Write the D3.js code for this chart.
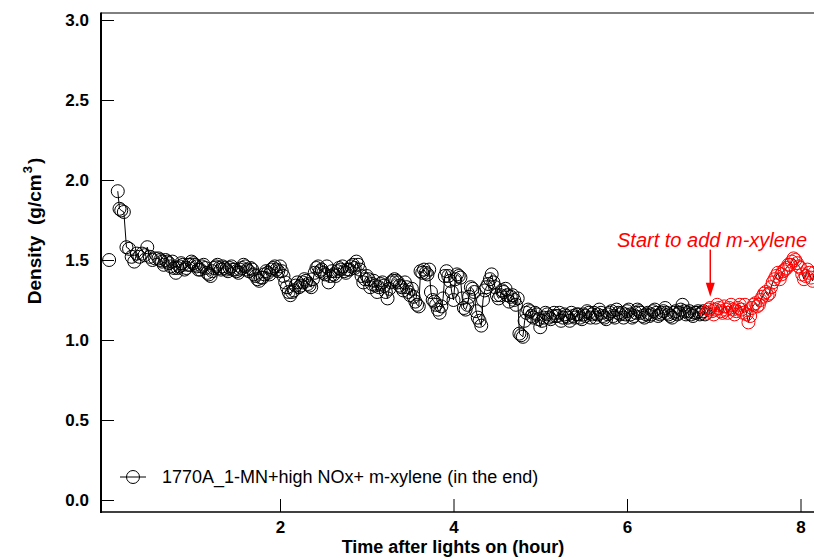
<!DOCTYPE html>
<html>
<head>
<meta charset="utf-8">
<script src="https://cdn.jsdelivr.net/npm/d3@7"></script>
<style>
  html, body { margin: 0; padding: 0; background: #fff; }
  svg { display: block; font-family: "Liberation Sans", Arial, sans-serif; }
</style>
</head>
<body>
<div id="chart"></div>
<script>
// Time after lights on (hour)
const time = [
  0.03, 0.08, 0.13, 0.15, 0.17, 0.20, 0.23, 0.26, 0.29, 0.32, 0.35, 0.38, 0.41, 0.44, 0.47, 0.50, 0.53, 0.56,
  0.60, 0.62, 0.64, 0.66, 0.68, 0.70, 0.72, 0.74, 0.76, 0.78,
  0.80, 0.82, 0.84, 0.86, 0.88, 0.90, 0.92, 0.94, 0.96, 0.98,
  1.00, 1.02, 1.04, 1.06, 1.08, 1.10, 1.12, 1.14, 1.16, 1.18,
  1.20, 1.22, 1.24, 1.26, 1.28, 1.30, 1.32, 1.34, 1.36, 1.38,
  1.40, 1.42, 1.44, 1.46, 1.48, 1.50, 1.52, 1.54, 1.56, 1.58,
  1.60, 1.62, 1.64, 1.66, 1.68, 1.70, 1.72, 1.74, 1.76, 1.78,
  1.80, 1.82, 1.84, 1.86, 1.88, 1.90, 1.92, 1.94, 1.96, 1.98,
  2.00, 2.02, 2.04, 2.06, 2.08, 2.10, 2.12, 2.14, 2.16, 2.18,
  2.20, 2.22, 2.24, 2.26, 2.28, 2.30, 2.32, 2.34, 2.36, 2.38,
  2.40, 2.42, 2.44, 2.46, 2.48, 2.50, 2.52, 2.54, 2.56, 2.58,
  2.60, 2.62, 2.64, 2.66, 2.68, 2.70, 2.72, 2.74, 2.76, 2.78,
  2.80, 2.82, 2.84, 2.86, 2.88, 2.90, 2.92, 2.94, 2.96, 2.98,
  3.00, 3.02, 3.04, 3.06, 3.08, 3.10, 3.12, 3.14, 3.16, 3.18,
  3.20, 3.22, 3.24, 3.26, 3.28, 3.30, 3.32, 3.34, 3.36, 3.38,
  3.40, 3.42, 3.44, 3.46, 3.48, 3.50, 3.52, 3.54, 3.56, 3.58,
  3.60, 3.62, 3.64, 3.66, 3.68, 3.70, 3.72, 3.74, 3.76, 3.78,
  3.80, 3.82, 3.84, 3.86, 3.88, 3.90, 3.92, 3.94, 3.96, 3.98,
  4.00, 4.02, 4.04, 4.06, 4.08, 4.10, 4.12, 4.14, 4.16, 4.18,
  4.20, 4.22, 4.24, 4.26, 4.28, 4.30, 4.32, 4.34, 4.36, 4.38,
  4.40, 4.42, 4.44, 4.46, 4.48, 4.50, 4.52, 4.54, 4.56, 4.58,
  4.60, 4.62, 4.64, 4.66, 4.68, 4.70, 4.72, 4.74, 4.76, 4.78,
  4.80, 4.82, 4.84, 4.86, 4.88, 4.90, 4.92, 4.94, 4.96, 4.98,
  5.00, 5.02, 5.04, 5.06, 5.08, 5.10, 5.12, 5.14, 5.16, 5.18,
  5.20, 5.22, 5.24, 5.26, 5.28, 5.30, 5.32, 5.34, 5.36, 5.38,
  5.40, 5.42, 5.44, 5.46, 5.48, 5.50, 5.52, 5.54, 5.56, 5.58,
  5.60, 5.62, 5.64, 5.66, 5.68, 5.70, 5.72, 5.74, 5.76, 5.78,
  5.80, 5.82, 5.84, 5.86, 5.88, 5.90, 5.92, 5.94, 5.96, 5.98,
  6.00, 6.02, 6.04, 6.06, 6.08, 6.10, 6.12, 6.14, 6.16, 6.18,
  6.20, 6.22, 6.24, 6.26, 6.28, 6.30, 6.32, 6.34, 6.36, 6.38,
  6.40, 6.42, 6.44, 6.46, 6.48, 6.50, 6.52, 6.54, 6.56, 6.58,
  6.60, 6.62, 6.64, 6.66, 6.68, 6.70, 6.72, 6.74, 6.76, 6.78,
  6.80, 6.82, 6.84, 6.86, 6.88, 6.90, 6.92, 6.94, 6.96, 6.98,
  7.00, 7.02, 7.04, 7.06, 7.08, 7.10, 7.12, 7.14, 7.16, 7.18,
  7.20, 7.22, 7.24, 7.26, 7.28, 7.30, 7.32, 7.34, 7.36, 7.38,
  7.40, 7.42, 7.44, 7.46, 7.48, 7.50, 7.52, 7.54, 7.56, 7.58,
  7.60, 7.62, 7.64, 7.66, 7.68, 7.70, 7.72, 7.74, 7.76, 7.78,
  7.80, 7.82, 7.84, 7.86, 7.88, 7.90, 7.92, 7.94, 7.96, 7.98,
  8.00, 8.02, 8.04, 8.06, 8.08, 8.10, 8.12, 8.14, 8.16
];

// Density (g/cm3), null = gap in the trace
const density = [
  1.50, null, 1.93, 1.82, 1.81, 1.80, 1.58, 1.57, 1.52, 1.49, 1.54, 1.52, 1.54, 1.53, 1.58, 1.52, 1.50, 1.51,
  1.51, 1.50, 1.49, 1.47, 1.50, 1.49, 1.48, 1.46, 1.49, 1.45,
  1.42, 1.45, 1.46, 1.48, 1.47, 1.44, 1.45, 1.47, 1.47, 1.49,
  1.48, 1.47, 1.46, 1.44, 1.44, 1.46, 1.47, 1.45, 1.42, 1.41,
  1.40, 1.43, 1.45, 1.46, 1.47, 1.45, 1.44, 1.46, 1.45, 1.44,
  1.43, 1.45, 1.46, 1.44, 1.44, 1.43, 1.42, 1.44, 1.45, 1.47,
  1.46, 1.44, 1.43, 1.45, 1.44, 1.41, 1.40, 1.38, 1.37, 1.39,
  1.39, 1.41, 1.43, 1.42, 1.41, 1.44, 1.45, 1.46, 1.44, 1.43,
  1.46, 1.43, 1.40, 1.36, 1.33, 1.30, 1.28, 1.30, 1.31, 1.34,
  1.36, 1.33, 1.34, 1.36, 1.38, 1.37, 1.35, 1.34, 1.33, 1.38,
  1.42, 1.45, 1.46, 1.43, 1.44, 1.42, 1.41, 1.46, 1.36, 1.40,
  1.43, 1.41, 1.40, 1.43, 1.45, 1.44, 1.46, 1.43, 1.42, 1.44,
  1.44, 1.46, 1.47, 1.45, 1.49, 1.47, 1.44, 1.40, 1.36, 1.38,
  1.40, 1.38, 1.33, 1.35, 1.37, 1.34, 1.30, 1.33, 1.35, 1.36,
  1.34, 1.30, 1.26, 1.32, 1.36, 1.37, 1.38, 1.37, 1.36, 1.34,
  1.33, 1.31, 1.36, 1.33, 1.30, 1.28, 1.32, 1.27, 1.24, 1.22,
  1.21, 1.43, 1.42, 1.44, 1.42, 1.41, 1.44, 1.30, 1.25, 1.24,
  1.22, 1.19, 1.17, 1.21, 1.26, 1.40, 1.43, 1.40, 1.37, 1.30,
  1.25, 1.38, 1.41, 1.40, 1.39, 1.26, 1.20, 1.19, 1.22, 1.27,
  1.33, 1.32, 1.30, 1.18, 1.14, 1.12, 1.09, 1.25, 1.31, 1.33,
  1.35, 1.38, 1.41, 1.36, 1.33, 1.28, 1.26, 1.28, 1.31, 1.30,
  1.32, 1.28, 1.24, 1.27, 1.28, 1.25, 1.22, 1.26, 1.04, 1.03,
  1.02, 1.12, 1.17, 1.19, 1.18, 1.15, 1.14, 1.17, 1.16, 1.13,
  1.08, 1.12, 1.14, 1.17, 1.16, 1.14, 1.13, 1.15, 1.17, 1.15,
  1.15, 1.17, 1.12, 1.14, 1.16, 1.15, 1.14, 1.12, 1.17, 1.15,
  1.14, 1.16, 1.16, 1.14, 1.13, 1.16, 1.15, 1.18, 1.17, 1.14,
  1.16, 1.17, 1.14, 1.16, 1.19, 1.17, 1.15, 1.14, 1.13, 1.16,
  1.17, 1.18, 1.15, 1.14, 1.19, 1.17, 1.16, 1.17, 1.14, 1.16,
  1.18, 1.19, 1.16, 1.14, 1.15, 1.17, 1.19, 1.18, 1.17, 1.15,
  1.14, 1.16, 1.17, 1.15, 1.16, 1.18, 1.19, 1.17, 1.15, 1.16,
  1.17, 1.18, 1.20, 1.17, 1.16, 1.15, 1.14, 1.17, 1.18, 1.16,
  1.17, 1.19, 1.22, 1.18, 1.16, 1.17, 1.18, 1.16, 1.15, 1.17,
  1.17, 1.18, 1.16, 1.17, 1.18, 1.16, 1.17, 1.19, 1.20, 1.18,
  1.16, 1.19, 1.22, 1.20, 1.18, 1.17, 1.21, 1.19, 1.17, 1.20,
  1.22, 1.19, 1.16, 1.18, 1.20, 1.22, 1.19, 1.17, 1.22, 1.16,
  1.11, 1.15, 1.20, 1.22, 1.23, 1.21, 1.22, 1.25, 1.27, 1.29,
  1.30, 1.28, 1.29, 1.33, 1.36, 1.38, 1.40, 1.42, 1.38, 1.41,
  1.43, 1.44, 1.45, 1.47, 1.47, 1.49, 1.51, 1.50, 1.48, 1.46,
  1.45, 1.41, 1.38, 1.40, 1.44, 1.42, 1.39, 1.37, 1.42
];

// markers after this time are drawn red (m-xylene added)
const redStart = 6.9;

const xTicks = [2, 4, 6, 8];
const yTicks = [0, 0.5, 1.0, 1.5, 2.0, 2.5, 3.0];

const seriesLabel = "1770A_1-MN+high NOx+ m-xylene (in the end)";
const noteLabel = "Start to add m-xylene";
const xTitle = "Time after lights on (hour)";

// annotation position in data units
const noteText = { t: 5.885, v: 1.58 };
const noteArrow = { t: 6.96, from: 1.565, to: 1.27 };

const width = 814, height = 559;
const plotLeft = 101, plotTop = 13, plotBottom = 512;

const svg = d3.select("#chart").append("svg")
  .attr("width", width)
  .attr("height", height);

const x = d3.scaleLinear().domain([0, 8]).range([106.5, 800.5]);
const y = d3.scaleLinear().domain([0, 3]).range([500, 20]);

const points = time.map((t, i) => ({ t: t, v: density[i] }));

// clip to the plot area
svg.append("clipPath").attr("id", "plotClip")
  .append("rect")
  .attr("x", plotLeft).attr("y", plotTop)
  .attr("width", width - plotLeft + 20).attr("height", plotBottom - plotTop);

// frame: top line
svg.append("line")
  .attr("x1", plotLeft).attr("x2", width)
  .attr("y1", plotTop).attr("y2", plotTop)
  .attr("stroke", "#000").attr("stroke-width", 1);

// y axis, ticks point into the plot
const yAxis = svg.append("g")
  .attr("transform", `translate(${plotLeft},0)`)
  .call(d3.axisLeft(y).tickValues(yTicks).tickFormat(d3.format(".1f"))
    .tickSizeInner(-13).tickSizeOuter(0).tickPadding(12));
yAxis.select(".domain").remove();
yAxis.selectAll(".tick line").attr("stroke", "#000").attr("stroke-width", 1);
yAxis.selectAll(".tick text")
  .attr("fill", "#000")
  .style("font-size", "17px").style("font-weight", "bold")
  .style("font-family", "'Liberation Sans', Arial, sans-serif");

// x axis
const xAxis = svg.append("g")
  .attr("transform", `translate(0,${plotBottom})`)
  .call(d3.axisBottom(x).tickValues(xTicks).tickFormat(d3.format("d"))
    .tickSizeInner(-13).tickSizeOuter(0).tickPadding(9));
xAxis.select(".domain").remove();
xAxis.selectAll(".tick line").attr("stroke", "#000").attr("stroke-width", 1);
xAxis.selectAll(".tick text")
  .attr("fill", "#000")
  .style("font-size", "17px").style("font-weight", "bold")
  .style("font-family", "'Liberation Sans', Arial, sans-serif");

// axis lines
svg.append("line")
  .attr("x1", plotLeft).attr("x2", plotLeft)
  .attr("y1", plotTop - 0.5).attr("y2", plotBottom + 1)
  .attr("stroke", "#000").attr("stroke-width", 2);
svg.append("line")
  .attr("x1", plotLeft).attr("x2", width)
  .attr("y1", plotBottom).attr("y2", plotBottom)
  .attr("stroke", "#000").attr("stroke-width", 1.5);

// axis titles
svg.append("text")
  .attr("x", 453).attr("y", 553)
  .attr("text-anchor", "middle")
  .style("font-size", "18px").style("font-weight", "bold")
  .text(xTitle);

const yTitle = svg.append("text")
  .attr("transform", "translate(41,231) rotate(-90)")
  .attr("text-anchor", "middle")
  .style("font-size", "19px").style("font-weight", "bold")
  .style("white-space", "pre");
yTitle.append("tspan").text("Density  (g/cm");
yTitle.append("tspan").attr("dx", 1).attr("dy", -9).style("font-size", "13px").text("3");
yTitle.append("tspan").attr("dx", 2).attr("dy", 9).text(")");

// data
const plot = svg.append("g").attr("clip-path", "url(#plotClip)");

const line = d3.line()
  .defined(d => d.v !== null)
  .x(d => x(d.t))
  .y(d => y(d.v));

plot.append("path")
  .datum(points)
  .attr("d", line)
  .attr("fill", "none")
  .attr("stroke", "#000")
  .attr("stroke-width", 1);

plot.selectAll("circle.pt")
  .data(points.filter(d => d.v !== null))
  .join("circle")
  .attr("class", "pt")
  .attr("cx", d => x(d.t))
  .attr("cy", d => y(d.v))
  .attr("r", 6.5)
  .attr("fill", "none")
  .attr("stroke", d => (d.t > redStart ? "#f00" : "#000"))
  .attr("stroke-width", 1);

// annotation
svg.append("text")
  .attr("x", x(noteText.t)).attr("y", y(noteText.v))
  .attr("fill", "#f00")
  .style("font-size", "20px").style("font-style", "italic")
  .text(noteLabel);

svg.append("line")
  .attr("x1", x(noteArrow.t)).attr("x2", x(noteArrow.t))
  .attr("y1", y(noteArrow.from)).attr("y2", y(noteArrow.to) - 12)
  .attr("stroke", "#f00").attr("stroke-width", 1.5);
svg.append("path")
  .attr("d", d3.line()([
    [x(noteArrow.t) - 4.5, y(noteArrow.to) - 14],
    [x(noteArrow.t) + 4.5, y(noteArrow.to) - 14],
    [x(noteArrow.t), y(noteArrow.to)]
  ]) + "Z")
  .attr("fill", "#f00");

// legend
const legend = svg.append("g").attr("transform", "translate(120,477)");
legend.append("line")
  .attr("x1", 0).attr("x2", 26)
  .attr("stroke", "#000").attr("stroke-width", 1);
legend.append("circle")
  .attr("cx", 13).attr("r", 6.5)
  .attr("fill", "none").attr("stroke", "#000").attr("stroke-width", 1);
legend.append("text")
  .attr("x", 42).attr("dy", "0.35em")
  .style("font-size", "18px")
  .text(seriesLabel);
</script>
</body>
</html>
